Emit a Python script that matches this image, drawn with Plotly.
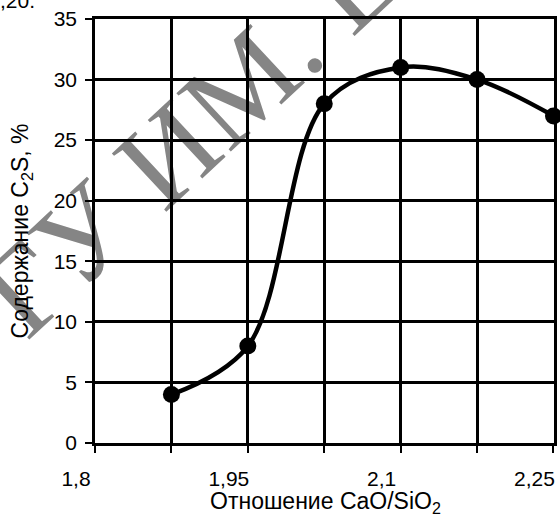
import plotly.graph_objects as go

# data
ratio = [1.875, 1.95, 2.025, 2.1, 2.175, 2.25]
c2s = [4, 8, 28, 31, 30, 27]
x_tickvals = [1.8, 1.95, 2.1, 2.25]
x_ticktext = ["1,8", "1,95", "2,1", "2,25"]
y_tickvals = [0, 5, 10, 15, 20, 25, 30, 35]

L, R, T, B = 95, 3, 19, 78
W, H = 560, 521
pw, ph = W - L - R, H - T - B

def px(x):
    return (x - L) / pw

def py(y):
    return (H - B - y) / ph

font = dict(family="Liberation Sans, Arial, sans-serif", size=21, color="black")
tfont = dict(family="Liberation Sans, Arial, sans-serif", size=23, color="black")

fig = go.Figure()
fig.add_trace(go.Scatter(
    x=ratio, y=c2s, mode="lines+markers",
    line=dict(color="black", width=4.5, shape="spline", smoothing=1.0),
    marker=dict(color="black", size=17),
    cliponaxis=False, showlegend=False,
))

fig.add_shape(
    type="rect", xref="paper", yref="paper",
    x0=px(180) - 0.01, x1=px(180) + 0.01, y0=py(125) - 0.01, y1=py(125) + 0.01,
    line=dict(width=0), fillcolor="rgba(0,0,0,0)", layer="below",
    label=dict(text="ГУ ИМ. Е", textangle=-43, textposition="middle center",
               font=dict(family="Liberation Serif, Times New Roman, serif", size=122,
                         color="#858585")),
)

fig.add_annotation(
    text=",20.", xref="paper", yref="paper", x=px(-3), y=py(14),
    xanchor="left", yanchor="bottom", showarrow=False, font=font,
)

fig.add_annotation(
    text="Отношение CaO/SiO<sub>2</sub>", xref="paper", yref="paper",
    x=px(327), y=py(487), xanchor="center", yanchor="top",
    showarrow=False, font=tfont, borderpad=0,
)

axis_common = dict(
    showline=True, linecolor="black", linewidth=2.5, mirror=True,
    showgrid=True, gridcolor="black", gridwidth=2.5,
    ticks="outside", tickcolor="black", tickwidth=2, ticklen=7,
    tickfont=font, zeroline=False,
)

fig.update_layout(
    width=W, height=H,
    margin=dict(l=L, r=R, t=T, b=B),
    paper_bgcolor="white", plot_bgcolor="white",
    xaxis=dict(
        **axis_common,
        range=[1.8, 2.2505],
        tickmode="array", tickvals=x_tickvals, ticktext=x_ticktext,
        ticklabelshift=-19, ticklabelstandoff=8,
        minor=dict(dtick=0.075, tick0=1.8, showgrid=True, gridcolor="black",
                   gridwidth=2.5, ticks="outside", ticklen=7, tickcolor="black",
                   tickwidth=2),
    ),
    yaxis=dict(
        **axis_common,
        range=[0, 35], tickmode="array", tickvals=y_tickvals,
        ticklabelstandoff=4,
        title=dict(text="Содержание C<sub>2</sub>S, %", font=tfont, standoff=19),
    ),
)

fig.write_html("out.html")
